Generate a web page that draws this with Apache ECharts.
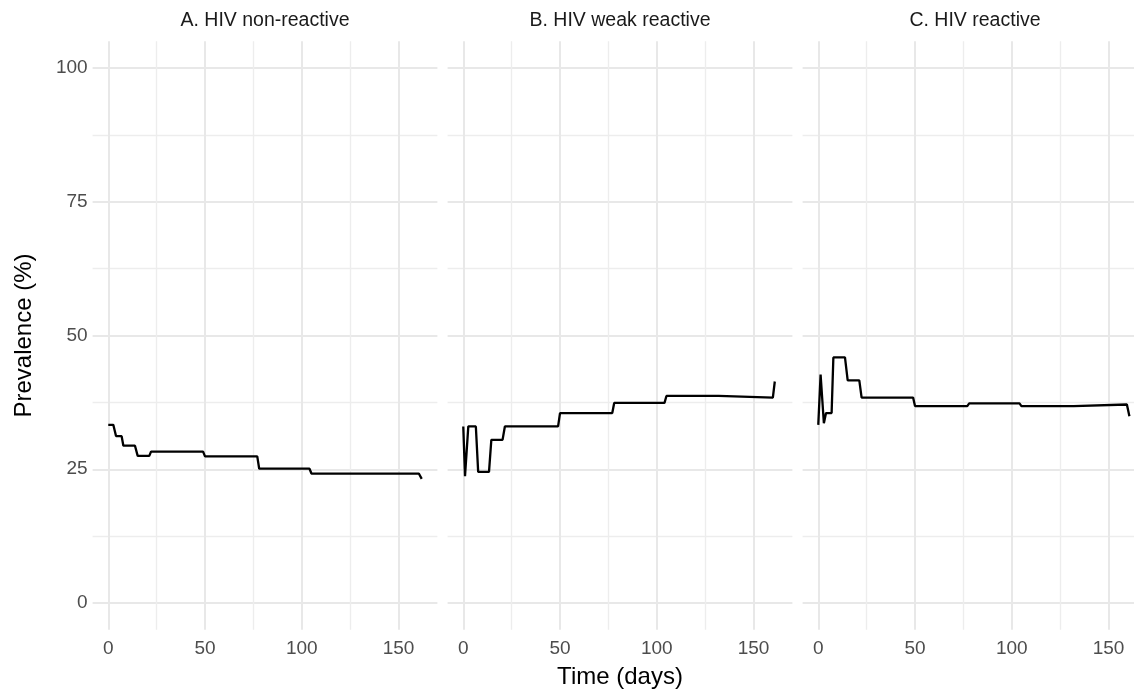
<!DOCTYPE html>
<html>
<head>
<meta charset="utf-8">
<script src="https://cdn.jsdelivr.net/npm/echarts@6/dist/echarts.min.js"></script>
<style>
html,body{margin:0;padding:0;background:#fff;}
#chart{width:1134px;height:689px;}
</style>
</head>
<body>
<div id="chart"></div>
<script>
const panelTitles = ['A. HIV non-reactive', 'B. HIV weak reactive', 'C. HIV reactive'];
const xAxisTitle = 'Time (days)';
const yAxisTitle = 'Prevalence (%)';

const daysA = [0, 2.6, 4, 6.9, 7.8, 13.8, 15.2, 21.2, 22.1, 49, 50, 77, 78, 104, 105, 160.5, 162];
const prevA = [33.3, 33.3, 31.2, 31.2, 29.4, 29.4, 27.5, 27.5, 28.3, 28.3, 27.4, 27.4, 25.1, 25.1, 24.2, 24.2, 23.2];

const daysB = [0, 0.9, 2.6, 6.5, 7.7, 13.3, 14.5, 20.3, 21.5, 49, 50, 77, 78, 104, 105, 132, 133, 160, 161];
const prevB = [33.0, 23.7, 33.0, 33.0, 24.5, 24.5, 30.5, 30.5, 33.0, 33.0, 35.5, 35.5, 37.4, 37.4, 38.7, 38.7, 38.4, 38.4, 41.4];

const daysC = [0, 1.2, 2.9, 4, 6.9, 7.8, 13.8, 15.2, 21.2, 22.4, 49, 50, 77, 78, 104, 105, 132, 133, 159.5, 160.8];
const prevC = [33.3, 42.7, 33.6, 35.5, 35.5, 45.9, 45.9, 41.6, 41.6, 38.4, 38.4, 36.8, 36.8, 37.3, 37.3, 36.8, 36.8, 37.1, 37.1, 34.9];

const xTicks = [0, 50, 100, 150];
const yTicks = [0, 25, 50, 75, 100];

const panels = [[daysA, prevA], [daysB, prevB], [daysC, prevC]];

// layout (pixels)
const gridLefts = [92.6, 447.6, 802.6];
const gridWidth = 344.8;
const gridTop = 41.25;
const gridHeight = 588.5;
const xMin = -8.1, xMax = 170.1, yMin = -5, yMax = 105;
const xStep = xTicks[1] - xTicks[0];
const yStep = yTicks[1] - yTicks[0];

const FONT = 'Liberation Sans, Arial, Helvetica, sans-serif';

const chart = echarts.init(document.getElementById('chart'), null, {renderer: 'canvas'});

const grids = [], xAxes = [], yAxes = [], series = [], graphics = [];
panels.forEach((p, i) => {
  grids.push({left: gridLefts[i], top: gridTop, width: gridWidth, height: gridHeight,
    containLabel: false, outerBoundsMode: 'none'});
  xAxes.push({
    type: 'value', gridIndex: i, min: xMin, max: xMax,
    splitNumber: 4, minInterval: xStep, maxInterval: xStep,
    axisLine: {show: false}, axisTick: {show: false},
    axisLabel: {show: true, color: '#4d4d4d', fontSize: 19, fontFamily: FONT, margin: 10,
      showMinLabel: false, showMaxLabel: false,
      formatter: v => (xTicks.indexOf(v) >= 0 ? String(v) : '')},
    splitLine: {show: true, showMinLine: false, showMaxLine: false, lineStyle: {color: '#e8e8e8', width: 2}},
    minorTick: {show: false, splitNumber: 2},
    minorSplitLine: {show: true, lineStyle: {color: '#ededed', width: 1.4}},
    name: i === 1 ? xAxisTitle : '', nameLocation: 'middle', nameGap: 36,
    nameTextStyle: {color: '#000', fontSize: 24, fontFamily: FONT}
  });
  yAxes.push({
    type: 'value', gridIndex: i, min: yMin, max: yMax,
    splitNumber: 4, minInterval: yStep, maxInterval: yStep,
    axisLine: {show: false}, axisTick: {show: false},
    axisLabel: {show: i === 0, color: '#4d4d4d', fontSize: 19, fontFamily: FONT, margin: 5,
      showMinLabel: false, showMaxLabel: false,
      formatter: v => (yTicks.indexOf(v) >= 0 ? String(v) : '')},
    splitLine: {show: true, showMinLine: false, showMaxLine: false, lineStyle: {color: '#e8e8e8', width: 2}},
    minorTick: {show: false, splitNumber: 2},
    minorSplitLine: {show: true, lineStyle: {color: '#ededed', width: 1.4}},
    name: i === 0 ? yAxisTitle : '', nameLocation: 'middle', nameGap: 56, nameRotate: 90,
    nameTextStyle: {color: '#000', fontSize: 24, fontFamily: FONT}
  });
  series.push({
    type: 'line', xAxisIndex: i, yAxisIndex: i,
    data: p[0].map((d, k) => [d, p[1][k]]),
    showSymbol: false, symbol: 'none', smooth: false, animation: false,
    lineStyle: {color: '#000', width: 2.3}, clip: true
  });
  graphics.push({
    type: 'text', x: gridLefts[i] + gridWidth / 2, y: 21,
    style: {text: panelTitles[i], fontSize: 19.5, fontFamily: FONT, fill: '#1a1a1a', align: 'center', verticalAlign: 'middle'}
  });
});

chart.setOption({
  animation: false,
  backgroundColor: '#fff',
  grid: grids, xAxis: xAxes, yAxis: yAxes, series: series,
  graphic: graphics
});
</script>
</body>
</html>
